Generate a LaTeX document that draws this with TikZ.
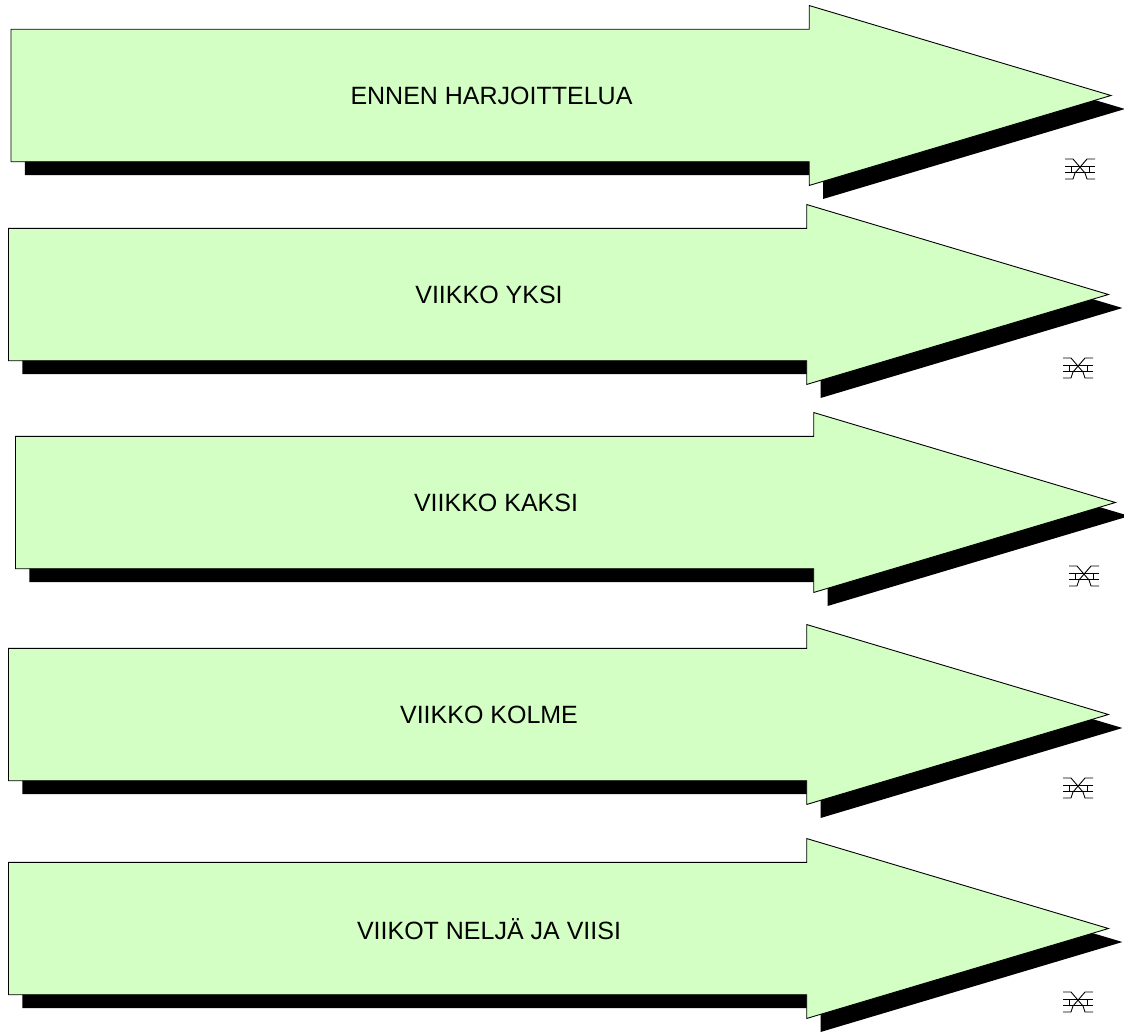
\documentclass[tikz,border=0pt]{standalone}
\usepackage{fontspec}
\setmainfont{Liberation Sans}
\usetikzlibrary{shapes.arrows, shadows, positioning}
\definecolor{PaleGreen}{RGB}{212,255,196}
\begin{document}
\begin{tikzpicture}[
          x=1pt, y=-1pt,
          weekarrow/.style={single arrow, draw=black, line width=0.9pt, fill=PaleGreen, anchor=tail, inner sep=0pt, text width=1pt, text height=131.5pt, text depth=0pt, minimum height=1100pt, single arrow head extend=23.75pt, single arrow tip angle=33.2, single arrow head indent=0pt, general shadow={shadow xshift=14pt, shadow yshift=-13.5pt, fill=black}},
          weeklabel/.style={font=\fontsize{25}{25}\selectfont, inner sep=0pt, xshift=481pt, yshift=-0.5pt},
          pics/brickmark/.style={code={
            \draw [line width=0.9pt] (-15,-10) -- (-7,-10) -- (5,4) -- (7,10) -- (15,10);
            \draw [line width=0.9pt] (15,-10) -- (7,-10) -- (-5,4) -- (-7,10) -- (-15,10);
            \draw [line width=0.9pt] (-15,-3) -- (15,-3);
            \draw [line width=0.9pt] (-15,3) -- (15,3);
            \draw [line width=0.9pt] (-9,-3) -- (-9,3);
            \draw [line width=0.9pt] (9,-3) -- (9,3);
          }}
        ]
          \useasboundingbox (0,0) rectangle (1124,1033);

          \node (before) [weekarrow] at (10.5,95.5) {};
          \node (weekone) [weekarrow] at (8,294.5) {};
          \node (weektwo) [weekarrow] at (15,502.5) {};
          \node (weekthree) [weekarrow] at (8,714.5) {};
          \node (weekfour) [weekarrow] at (8,928.5) {};

          \node (beforetext) [weeklabel] at (before.tail) {ENNEN HARJOITTELUA};
          \node (weekonetext) [weeklabel] at (weekone.tail) {VIIKKO YKSI};
          \node (weektwotext) [weeklabel] at (weektwo.tail) {VIIKKO KAKSI};
          \node (weekthreetext) [weeklabel] at (weekthree.tail) {VIIKKO KOLME};
          \node (weekfourtext) [weeklabel] at (weekfour.tail) {VIIKOT NELJÄ JA VIISI};

          \pic at (1080,169) {brickmark};
          \pic at (1078,368) {brickmark};
          \pic at (1084,576) {brickmark};
          \pic at (1078,788) {brickmark};
          \pic at (1078,1002) {brickmark};
        \end{tikzpicture}
\end{document}
